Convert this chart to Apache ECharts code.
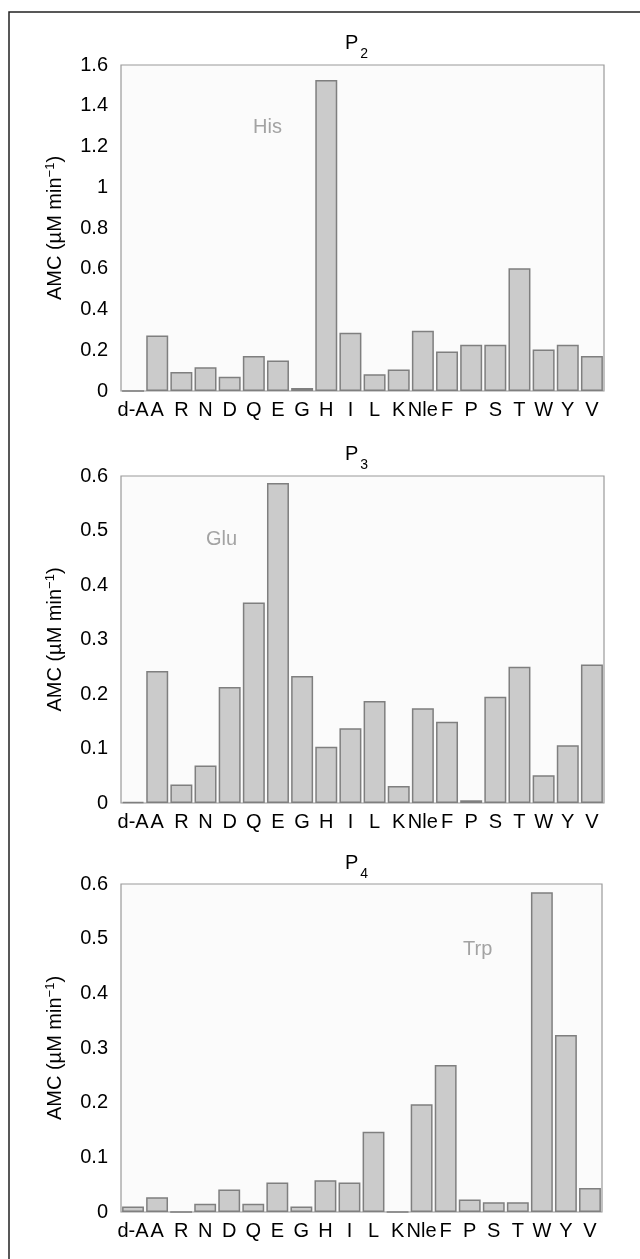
<!DOCTYPE html>
<html>
<head>
<meta charset="utf-8">
<script src="https://cdn.jsdelivr.net/npm/echarts@6/dist/echarts.min.js"></script>
<style>
html,body{margin:0;padding:0;background:#fff;}
#chart{width:640px;height:1259px;}
</style>
</head>
<body>
<div id="chart"></div>
<script>
const categories = ['d-A','A','R','N','D','Q','E','G','H','I','L','K','Nle','F','P','S','T','W','Y','V'];
const p2Values = [0, 0.273, 0.093, 0.116, 0.070, 0.172, 0.150, 0.015, 1.526, 0.286, 0.082, 0.105, 0.296, 0.194, 0.227, 0.227, 0.603, 0.204, 0.227, 0.172];
const p3Values = [0.002, 0.242, 0.034, 0.069, 0.213, 0.368, 0.587, 0.233, 0.103, 0.137, 0.187, 0.031, 0.174, 0.149, 0.005, 0.195, 0.250, 0.051, 0.106, 0.254];
const p4Values = [0.010, 0.027, 0, 0.015, 0.041, 0.015, 0.054, 0.010, 0.058, 0.054, 0.147, 0, 0.197, 0.269, 0.023, 0.018, 0.018, 0.585, 0.324, 0.044];
const panelTitles = ['2','3','4'];
const panelNotes = ['His','Glu','Trp'];
const yMax = [1.6, 0.6, 0.6];
const yInterval = [0.2, 0.1, 0.1];

const grids = [
  {left:121, top:65, width:483, height:326},
  {left:121, top:476, width:483, height:327},
  {left:121, top:884, width:481, height:328}
];
const titlePos = [{left:340, top:28},{left:340, top:439},{left:340, top:848}];
const notePos = [{left:248, top:112},{left:201, top:524},{left:458, top:934}];
const seriesData = [p2Values, p3Values, p4Values];

const font = 'Liberation Sans, Arial, Helvetica, sans-serif';
const chart = echarts.init(document.getElementById('chart'), null, {renderer:'canvas'});

const option = {
  backgroundColor:'#ffffff',
  animation:false,
  title: [],
  grid: grids.map(g => Object.assign({show:true, borderColor:'#9a9a9a', borderWidth:1.2, backgroundColor:'#fbfbfb'}, g)),
  xAxis: grids.map((g,i) => ({
    type:'category', gridIndex:i, data:categories,
    axisLine:{show:false}, axisTick:{show:false},
    axisLabel:{interval:0, color:'#000', fontSize:20, fontFamily:font, margin:9}
  })),
  yAxis: grids.map((g,i) => ({
    type:'value', gridIndex:i, min:0, max:yMax[i], interval:yInterval[i],
    splitLine:{show:false}, axisLine:{show:false}, axisTick:{show:false},
    axisLabel:{color:'#000', fontSize:20, fontFamily:font, margin:13},
    name:'AMC (µM min{sup|−1})', nameLocation:'middle', nameGap:55, nameRotate:90,
    nameTextStyle:{color:'#000', fontSize:20, fontFamily:font,
      rich:{sup:{fontSize:13, verticalAlign:'top', padding:[0,0,9,0], color:'#000', fontFamily:font}}}
  })),
  series: seriesData.map((d,i) => ({
    type:'bar', xAxisIndex:i, yAxisIndex:i, data:d,
    barCategoryGap:'9%',
    itemStyle:{color:'#cbcbcb', borderColor:'#7f7f7f', borderWidth:1.5}
  })),
  graphic: [
    {type:'rect', shape:{x:9, y:12, width:700, height:1400}, style:{fill:null, stroke:'#222', lineWidth:1.5}, silent:true}
  ]
};

panelTitles.forEach((t,i) => {
  option.title.push({
    text:'{p|P}{sub|' + t + '}', left:titlePos[i].left, top:titlePos[i].top,
    textStyle:{fontWeight:'normal', color:'#000', fontFamily:font,
      rich:{
        p:{fontSize:20, color:'#000', fontFamily:font, verticalAlign:'top', lineHeight:24},
        sub:{fontSize:14, color:'#000', fontFamily:font, verticalAlign:'top', lineHeight:24, padding:[14,0,0,2]}
      }}
  });
  option.title.push({
    text:panelNotes[i], left:notePos[i].left, top:notePos[i].top,
    textStyle:{fontSize:20, fontWeight:'normal', color:'#a3a3a3', fontFamily:font}
  });
});

chart.setOption(option);
</script>
</body>
</html>
